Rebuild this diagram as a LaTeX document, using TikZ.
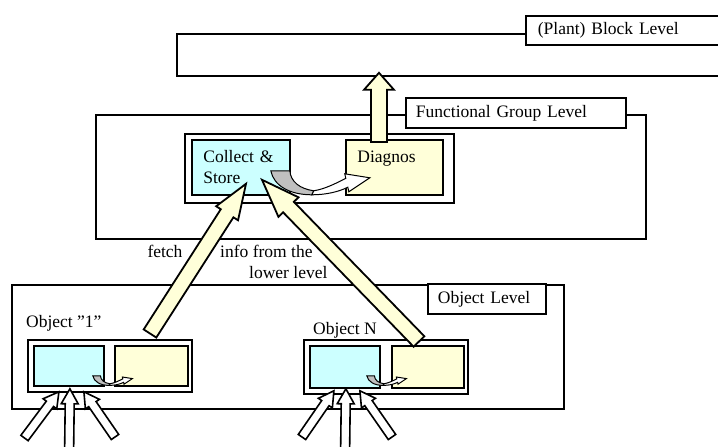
\documentclass[tikz,border=0pt]{standalone}
\usepackage{fontspec}
\setmainfont{Liberation Serif}
\usetikzlibrary{calc,positioning}
\definecolor{pcyan}{HTML}{CCFFFF}
\definecolor{pyell}{HTML}{FFFFD9}
\definecolor{pshade}{HTML}{C0C0C0}
\newcommand\dfont{\fontsize{17.5}{21}\selectfont}
% block arrow: style, from, to, shaft half, head half, head length
\newcommand\fatarrow[6]{%
  \coordinate (fahead) at ($(#3)!#6!(#2)$);
  \filldraw[#1] ($(#2)!#4!90:(#3)$) -- ($(fahead)!#4!-90:(#2)$) -- ($(fahead)!#5!-90:(#2)$)
    -- (#3) -- ($(fahead)!#5!90:(#2)$) -- ($(fahead)!#4!90:(#2)$) -- ($(#2)!#4!-90:(#3)$) -- cycle;}
\tikzset{
  frame/.style = {draw, line width=1.8pt, inner sep=0pt, anchor=north west},
  lvl/.style   = {draw, fill=white, line width=1.8pt, anchor=north west, align=left,
                  inner xsep=10pt, inner ysep=0pt, font=\dfont},
  cell/.style  = {draw, line width=1.8pt, anchor=north west, align=left,
                  inner xsep=11.5pt, inner ysep=0pt, font=\dfont},
  plain/.style = {inner sep=0pt, font=\dfont},
  bigarr/.style = {draw, fill=pyell, line width=1.8pt},
  inarr/.style  = {draw, fill=white, line width=1.6pt},
  turn/.pic = {
    \filldraw[fill=pshade, line width=1pt] (0,0) -- (19,0) .. controls (20,11) and (29,18) .. (43,20)
      -- (41,24) .. controls (19,24) and (3,15) .. (0,0) -- cycle;
    \filldraw[fill=white, line width=1pt] (43,20) .. controls (55,18) and (66,12) .. (75,7.6)
      -- (74,3) -- (99,7) -- (78,21) -- (77,16.4) .. controls (68,21) and (55,24) .. (41,24) -- cycle;
  },
}
\begin{document}
\begin{tikzpicture}[x=1pt, y=-1pt]
\useasboundingbox (0,0) rectangle (718,447);
% block level
\node[frame, minimum width=544pt, minimum height=42pt] (blk) at (176,33) {};
\node[lvl, text width=171pt, minimum height=29pt, inner xsep=12pt] (blkL) at (525,15) {(Plant) Block Level};
% functional group level
\node[frame, minimum width=550pt, minimum height=124pt] (fg) at (95,114) {};
\node[lvl, text width=200pt, minimum height=30pt] (fgL) at (405,97) {Functional Group Level};
\node[frame, minimum width=269pt, minimum height=69pt] (grp) at (184,133) {};
\node[cell, fill=pcyan, text width=75pt, minimum height=55pt] (cs) at (191,139) {Collect \&\\Store};
\node[cell, fill=pyell, text width=74pt, minimum height=55pt] (diag) at (345,139) {Diagnos\\\phantom{S}};
% object level
\node[frame, minimum width=552pt, minimum height=124pt] (ol) at (11,284) {};
\node[lvl, text width=98pt, minimum height=30pt] (olL) at (427,283) {Object Level};
\node[plain, anchor=west] (ob1t) at (26,323) {Object ”1”};
\node[frame, minimum width=164pt, minimum height=52pt] (ob1) at (27,339) {};
\node[cell, fill=pcyan, minimum width=70pt, minimum height=40pt] (ob1a) at (33,345) {};
\node[cell, fill=pyell, minimum width=73pt, minimum height=40pt] (ob1b) at (114,345) {};
\node[plain, anchor=west] (obNt) at (313,330) {Object N};
\node[frame, minimum width=164pt, minimum height=54pt] (obN) at (303,339) {};
\node[cell, fill=pcyan, minimum width=70pt, minimum height=42pt] (obNa) at (309,345) {};
\node[cell, fill=pyell, minimum width=72pt, minimum height=42pt] (obNb) at (391,345) {};
% texts between levels
\node[plain] (fetchT) at (165,251) {fetch};
\node[plain, anchor=west] (infoT1) at (220,251) {info from the};
\node[plain, anchor=west] (infoT2) at (249,273) {lower level};
% fat arrows
\coordinate (upA) at ($(diag.north west)+(34,3)$);
\coordinate (upB) at ($(blk.south west)+(203,-4)$);
\fatarrow{bigarr}{upA}{upB}{8pt}{15pt}{17pt}
\coordinate (fetchA) at ($(ob1b.north west)+(36,-11.5)$);
\coordinate (fetchB) at ($(cs.south west)+(55,-12)$);
\fatarrow{bigarr}{fetchA}{fetchB}{7.5pt}{13pt}{35pt}
\coordinate (infoA) at ($(obNb.north west)+(28,-3.5)$);
\coordinate (infoB) at ($(cs.south west)+(71,-16)$);
\fatarrow{bigarr}{infoA}{infoB}{7.5pt}{14pt}{38pt}
% inputs from below
\foreach \s/\tx/\ty/\hx/\hy in {ob1a/24.5/438/-10/5, ob1a/69/460/1/2, ob1a/115/437/15/5,
                                obNa/302/437/-11/2, obNa/345/460/1/0, obNa/392/437/15/2} {
  \coordinate (inT) at (\tx,\ty);
  \coordinate (inH) at ($(\s.south)+(\hx,\hy)$);
  \fatarrow{inarr}{inT}{inH}{4.5pt}{8.5pt}{15pt}
}
% turn arrows collect -> diagnose
\pic at ($(cs.south east)+(-20,-25)$) {turn};
\pic[scale=0.4] at ($(ob1a.south east)+(-12,-11)$) {turn};
\pic[scale=0.4] at ($(obNa.south east)+(-14,-13)$) {turn};
\end{tikzpicture}
\end{document}
